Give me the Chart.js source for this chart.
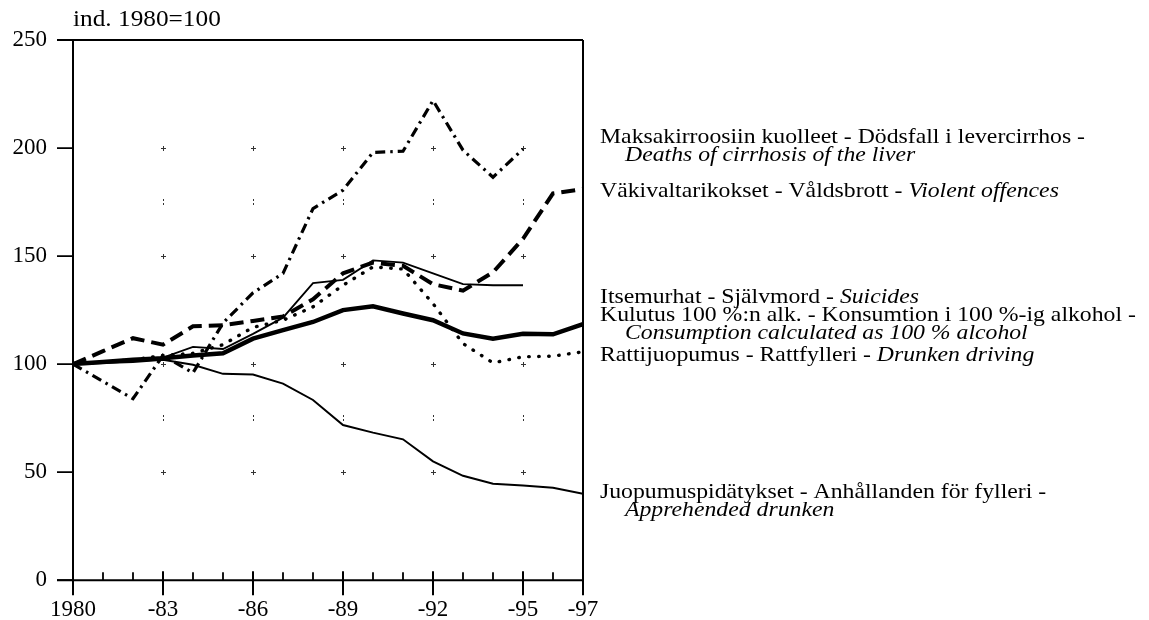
<!DOCTYPE html>
<html>
<head>
<meta charset="utf-8">
<script src="https://cdn.jsdelivr.net/npm/chart.js@4.4.1/dist/chart.umd.min.js"></script>
<style>
  html, body { margin: 0; padding: 0; background: #fff; }
  #wrap { position: relative; width: 1149px; height: 620px; }
</style>
</head>
<body>
<div id="wrap"><canvas id="c" width="1149" height="620"></canvas></div>
<script>
// ---- data (index 1980 = 100) ----
const years = [1980,1981,1982,1983,1984,1985,1986,1987,1988,1989,1990,1991,1992,1993,1994,1995,1996,1997];
const cirrhosis   = [100, 92, 84, 104, 96, 119, 133, 142, 172, 180.5, 198, 198.5, 222, 199, 186.5, 199.5, null, null];
const violent     = [100, 106, 112, 109, 117.5, 118, 120, 122, 130, 142, 147, 145.5, 137, 134, 142.5, 158, 179, 181];
const suicides    = [100, 101, 102, 103, 108, 107, 114, 121.5, 137.5, 139, 148, 147, 142, 137, 136.5, 136.5, null, null];
const consumption = [100, 101, 102, 102.7, 104, 105, 111.8, 115.7, 119.5, 125, 126.8, 123.4, 120.3, 114.2, 111.8, 114, 113.8, 118.5];
const driving     = [100, 101, 102, 104, 105, 109, 117, 120.3, 126.5, 136.5, 145, 144, 128, 109.5, 100.6, 103.4, 103.7, 105.7];
const apprehended = [100, 100.5, 101, 102, 99.7, 95.5, 95.2, 91, 83.4, 71.8, 68.3, 65.2, 55, 48.3, 44.6, 43.8, 42.8, 40];

const xMajorYears  = [1980, 1983, 1986, 1989, 1992, 1995, 1997];
const xTickLabels  = ['1980', '-83', '-86', '-89', '-92', '-95', '-97'];
const yTicks       = [0, 50, 100, 150, 200, 250];
const unitTitle    = 'ind. 1980=100';

// series labels: [regular part, italic part] per line
const seriesLabels = [
  [['Maksakirroosiin kuolleet - Dödsfall i levercirrhos -', ''], ['', 'Deaths of cirrhosis of the liver']],
  [['Väkivaltarikokset - Våldsbrott - ', 'Violent offences']],
  [['Itsemurhat - Självmord - ', 'Suicides']],
  [['Kulutus 100 %:n alk. - Konsumtion i 100 %-ig alkohol -', ''], ['', 'Consumption calculated as 100 % alcohol']],
  [['Rattijuopumus - Rattfylleri - ', 'Drunken driving']],
  [['Juopumuspidätykset - Anhållanden för fylleri -', ''], ['', 'Apprehended drunken']]
];

const FONT = "'Liberation Serif', 'Times New Roman', serif";
const pts = arr => years.map((yr, i) => ({ x: yr, y: arr[i] }));

// ---- label layout (pixel positions for the right-hand labels) ----
const labelLayout = [
  { x: 600, ys: [137, 155] },
  { x: 600, ys: [191] },
  { x: 600, ys: [297] },
  { x: 600, ys: [315, 333] },
  { x: 600, ys: [355] },
  { x: 600, ys: [492, 510] }
];

function stretchedText(ctx, text, x, y, sx) {
  ctx.save();
  ctx.translate(x, y);
  ctx.scale(sx, 1);
  ctx.fillText(text, 0, 0);
  const w = ctx.measureText(text).width * sx;
  ctx.restore();
  return w;
}

const framePlugin = {
  id: 'frame',
  beforeDatasetsDraw(chart) {
    const { ctx, scales: { x, y } } = chart;
    ctx.save();
    ctx.fillStyle = '#333';
    // sparse grid marks
    const gx = [1983, 1986, 1989, 1992, 1995];
    const gy = [50, 100, 150, 200];
    gx.forEach(v => {
      const px = Math.round(x.getPixelForValue(v));
      gy.forEach(w => {
        const py = Math.round(y.getPixelForValue(w));
        ctx.fillRect(px - 2, py, 5, 1);
        ctx.fillRect(px, py - 2, 1, 5);
      });
      [75, 175].forEach(w => {
        const py = Math.round(y.getPixelForValue(w));
        ctx.fillRect(px, py - 3, 1, 2);
        ctx.fillRect(px, py + 1, 1, 2);
      });
    });
    ctx.restore();
  },
  afterDraw(chart) {
    const { ctx, chartArea: a, scales: { x, y } } = chart;
    ctx.save();
    ctx.strokeStyle = '#000';
    ctx.lineWidth = 2;
    ctx.lineCap = 'butt';
    ctx.beginPath();
    ctx.moveTo(a.left, a.top); ctx.lineTo(a.left, a.bottom);
    ctx.moveTo(a.right, a.top); ctx.lineTo(a.right, a.bottom);
    ctx.moveTo(a.left - 16, a.top); ctx.lineTo(a.right, a.top);
    ctx.moveTo(a.left - 16, a.bottom); ctx.lineTo(a.right, a.bottom);
    ctx.stroke();
    // y ticks
    ctx.lineWidth = 1.8;
    ctx.beginPath();
    yTicks.forEach(v => {
      const py = y.getPixelForValue(v);
      ctx.moveTo(a.left - 16, py); ctx.lineTo(a.left, py);
    });
    ctx.stroke();
    // x ticks: minor up, major up and down
    ctx.beginPath();
    years.forEach(v => {
      const px = x.getPixelForValue(v);
      ctx.moveTo(px, a.bottom - 8); ctx.lineTo(px, a.bottom);
    });
    ctx.stroke();
    ctx.lineWidth = 2;
    ctx.beginPath();
    xMajorYears.forEach(v => {
      const px = x.getPixelForValue(v);
      ctx.moveTo(px, a.bottom - 9); ctx.lineTo(px, a.bottom + 15);
    });
    ctx.stroke();

    // unit title
    ctx.fillStyle = '#000';
    ctx.textBaseline = 'middle';
    ctx.textAlign = 'left';
    ctx.font = '23px ' + FONT;
    stretchedText(ctx, unitTitle, a.left, 20, 1.1);

    // series labels
    const SX = 1.13;
    seriesLabels.forEach((lines, i) => {
      const L = labelLayout[i];
      lines.forEach((parts, j) => {
        let px = L.x + (j > 0 ? 25 : 0);
        const py = L.ys[j];
        if (parts[0]) {
          ctx.font = '21px ' + FONT;
          px += stretchedText(ctx, parts[0], px, py, SX);
        }
        if (parts[1]) {
          ctx.font = 'italic 21px ' + FONT;
          stretchedText(ctx, parts[1], px, py, SX);
        }
      });
    });
    ctx.restore();
  }
};

const common = { pointRadius: 0, pointHoverRadius: 0, tension: 0, fill: false, borderColor: '#000', spanGaps: false };

new Chart(document.getElementById('c'), {
  type: 'line',
  data: {
    datasets: [
      { ...common, label: 'Maksakirroosiin kuolleet', data: pts(cirrhosis), borderWidth: 3.2, borderDash: [10, 5, 2.5, 5] },
      { ...common, label: 'Väkivaltarikokset', data: pts(violent), borderWidth: 4, borderDash: [14, 7] },
      { ...common, label: 'Itsemurhat', data: pts(suicides), borderWidth: 1.8 },
      { ...common, label: 'Kulutus 100 %:n alk.', data: pts(consumption), borderWidth: 4.5 },
      { ...common, label: 'Rattijuopumus', data: pts(driving), borderWidth: 3.4, borderDash: [0.5, 9.5], borderCapStyle: 'round' },
      { ...common, label: 'Juopumuspidätykset', data: pts(apprehended), borderWidth: 2 }
    ]
  },
  options: {
    responsive: false,
    animation: false,
    events: [],
    layout: { padding: { left: 0, top: 40, right: 566, bottom: 0 } },
    plugins: { legend: { display: false }, tooltip: { enabled: false }, title: { display: false } },
    scales: {
      x: {
        type: 'linear', min: 1980, max: 1997,
        afterBuildTicks: s => { s.ticks = xMajorYears.map(v => ({ value: v })); },
        afterFit: s => { s.height = 39; },
        grid: { display: false, drawTicks: false },
        border: { display: false },
        ticks: {
          autoSkip: false, maxRotation: 0, padding: 16, color: '#000',
          font: { family: FONT, size: 23 },
          callback: v => { const k = xMajorYears.indexOf(v); return k >= 0 ? xTickLabels[k] : ''; }
        }
      },
      y: {
        min: 0, max: 250,
        afterBuildTicks: s => { s.ticks = yTicks.map(v => ({ value: v })); },
        afterFit: s => { s.width = 73; },
        grid: { display: false, drawTicks: false },
        border: { display: false },
        ticks: { padding: 26, color: '#000', font: { family: FONT, size: 23 } }
      }
    }
  },
  plugins: [framePlugin]
});
</script>
</body>
</html>
